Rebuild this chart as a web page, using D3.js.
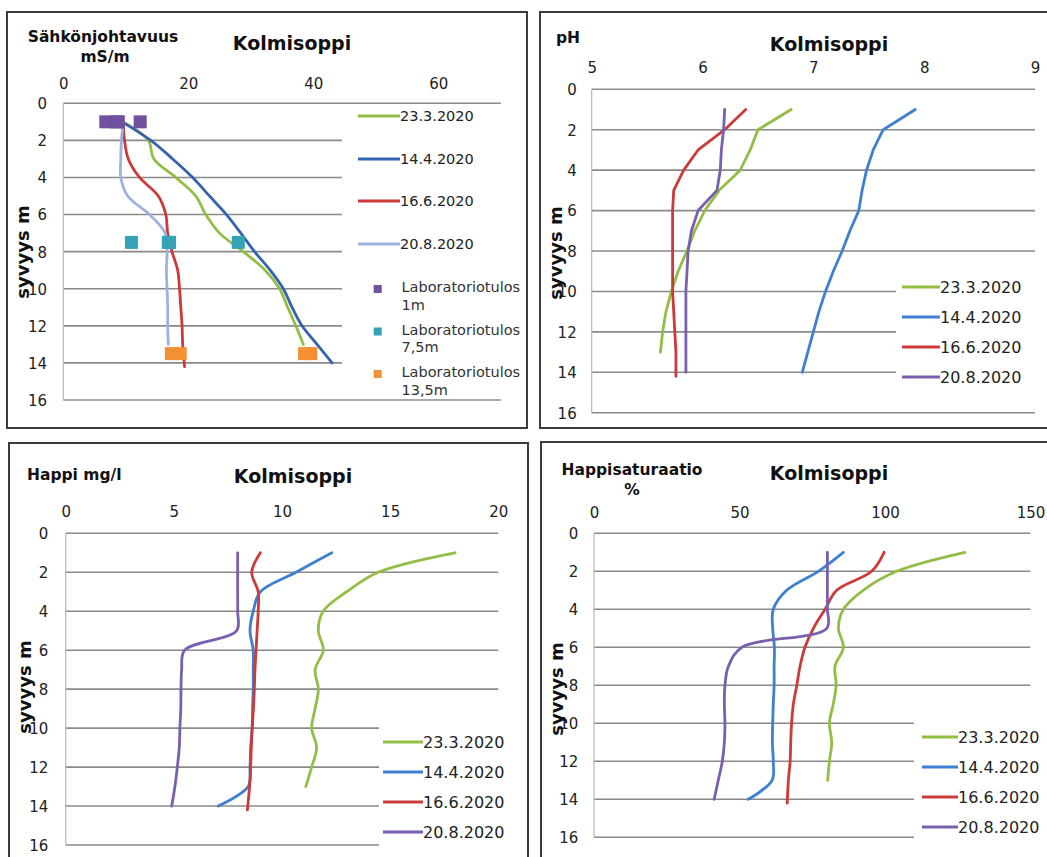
<!DOCTYPE html>
<html><head><meta charset="utf-8">
<script src="https://cdn.jsdelivr.net/npm/d3@7/dist/d3.min.js"></script>
<style>
body{margin:0;background:#fff}
svg{display:block}
text{font-family:"DejaVu Sans",Verdana,sans-serif}
</style>
</head><body>
<svg id="c" width="1047" height="857"></svg>
<script>
// ---------- shared ----------
const dates = ["23.3.2020", "14.4.2020", "16.6.2020", "20.8.2020"];
const depthTicks = [0, 2, 4, 6, 8, 10, 12, 14, 16];
const chartTitle = "Kolmisoppi";
const depthTitle = "syvyys m";
const depthTo13 = [1, 2, 3, 4, 5, 6, 7, 8, 9, 10, 11, 12, 13];
const depthTo14 = [1, 2, 3, 4, 5, 6, 7, 8, 9, 10, 11, 12, 13, 14];
const depthTo142 = [1, 2, 3, 4, 5, 6, 7, 8, 9, 10, 11, 12, 13, 14.2];

// ---------- Sähkönjohtavuus mS/m ----------
const ecTicks = [0, 20, 40, 60];
const ec2303 = [9.5, 13.6, 14.5, 18.0, 21.2, 22.8, 25.0, 28.8, 32.3, 34.6, 35.9, 37.2, 38.4];
const ec1404 = [9.4, 14.0, 17.5, 20.7, 23.4, 26.1, 28.4, 30.6, 33.1, 35.2, 36.6, 38.2, 40.6, 43.0];
const ec1606 = [9.6, 9.8, 10.4, 12.2, 15.2, 16.4, 16.7, 17.4, 18.3, 18.6, 18.8, 19.0, 19.1, 19.4];
const ec2008 = [9.6, 9.3, 9.2, 9.2, 10.3, 13.8, 16.3, 16.6, 16.5, 16.6, 16.7, 16.7, 16.8];
const labNames = ["Laboratoriotulos 1m", "Laboratoriotulos 7,5m", "Laboratoriotulos 13,5m"];
const labDepths = [1, 7.5, 13.5];
const lab1m = [6.8, 8.6, 8.8, 12.3];
const lab75m = [10.9, 16.8, 17.0, 28.0];
const lab135m = [17.3, 18.7, 38.6, 39.6];

// ---------- pH ----------
const phTicks = [5, 6, 7, 8, 9];
const ph2303 = [6.80, 6.50, 6.43, 6.34, 6.15, 6.02, 5.93, 5.86, 5.78, 5.72, 5.67, 5.64, 5.62];
const ph1404 = [7.92, 7.63, 7.54, 7.48, 7.44, 7.41, 7.33, 7.26, 7.18, 7.11, 7.05, 7.00, 6.95, 6.90];
const ph1606 = [6.39, 6.20, 5.96, 5.83, 5.74, 5.73, 5.73, 5.73, 5.73, 5.73, 5.74, 5.75, 5.76, 5.76];
const ph2008 = [6.20, 6.19, 6.17, 6.16, 6.13, 5.96, 5.90, 5.87, 5.86, 5.85, 5.85, 5.85, 5.85, 5.85];

// ---------- Happi mg/l ----------
const doTicks = [0, 5, 10, 15, 20];
const do2303 = [18.0, 14.45, 12.99, 11.9, 11.68, 11.91, 11.53, 11.68, 11.53, 11.37, 11.6, 11.37, 11.1];
const do1404 = [12.3, 10.65, 9.0, 8.67, 8.52, 8.67, 8.67, 8.67, 8.64, 8.62, 8.55, 8.52, 8.44, 7.05];
const do1606 = [9.0, 8.6, 8.9, 8.9, 8.85, 8.8, 8.75, 8.72, 8.68, 8.62, 8.58, 8.55, 8.5, 8.4];
const do2008 = [7.95, 7.95, 7.95, 7.95, 7.9, 5.5, 5.36, 5.33, 5.32, 5.28, 5.25, 5.16, 5.05, 4.9];

// ---------- Happisaturaatio % ----------
const dsTicks = [0, 50, 100, 150];
const ds2303 = [127.5, 104, 92.5, 85.7, 84.0, 85.7, 82.8, 83.2, 82.2, 80.9, 81.7, 80.9, 80.3];
const ds1404 = [85.7, 77.1, 66.2, 61.6, 61.4, 62.0, 61.9, 61.9, 61.6, 61.4, 61.3, 61.6, 61.2, 53.0];
const ds1606 = [99.7, 95.4, 83.4, 79.4, 75.4, 72.5, 70.8, 69.7, 68.5, 67.9, 67.6, 67.4, 66.8, 66.4];
const ds2008 = [80.2, 80.2, 80.2, 80.2, 80.0, 50.8, 46.2, 45.0, 44.8, 45.0, 44.8, 44.1, 42.7, 41.3];

// ---------- drawing ----------
const svg = d3.select("#c");
const FONT = '"DejaVu Sans",Verdana,sans-serif';
const GREEN = "#94bd45", RED = "#cc3a3a", PURPLE = "#7a5fae";
const fmt = d3.format("~g");

function pairs(depths, vals) { return vals.map((v, i) => ({ d: depths[i], v })); }

function panel(o) {
  const g = svg.append("g");
  g.append("rect").attr("x", o.frame[0]).attr("y", o.frame[1])
    .attr("width", o.frame[2]).attr("height", o.frame[3])
    .attr("fill", "#fff").attr("stroke", "#3c3c3c").attr("stroke-width", 2);

  const x = d3.scaleLinear().domain(o.xDomain).range(o.xRange);
  const y = d3.scaleLinear().domain([0, 16]).range(o.yRange);

  // grid
  g.append("g").selectAll("line").data(depthTicks).join("line")
    .attr("x1", o.xRange[0]).attr("x2", o.xRange[1])
    .attr("y1", d => y(d)).attr("y2", d => y(d))
    .attr("stroke", "#8a8a8a").attr("stroke-width", 1.6);
  g.append("line").attr("x1", o.xRange[0]).attr("x2", o.xRange[0])
    .attr("y1", y(0)).attr("y2", y(16)).attr("stroke", "#b8b8b8").attr("stroke-width", 1.2);

  // legend background
  g.append("rect").attr("x", o.legBox[0]).attr("y", o.legBox[1])
    .attr("width", o.legBox[2]).attr("height", o.legBox[3]).attr("fill", "#fff");

  // axes
  const xa = g.append("g").attr("transform", `translate(0,${o.xLabelY})`)
    .call(d3.axisTop(x).tickValues(o.xTicks).tickFormat(fmt).tickSize(0).tickPadding(0));
  xa.select(".domain").remove();
  xa.attr("font-size", 15).attr("font-family", FONT).attr("color", "#222");
  xa.selectAll("text").attr("y", 0).attr("dy", "0.36em");

  const ya = g.append("g").attr("transform", `translate(${o.yLabelX},0)`)
    .call(d3.axisLeft(y).tickValues(depthTicks).tickFormat(fmt).tickSize(0).tickPadding(0));
  ya.select(".domain").remove();
  ya.attr("font-size", 15).attr("font-family", FONT).attr("color", "#222");
  ya.selectAll("text").attr("x", 0).attr("dy", "0.36em");

  // titles
  g.append("text").attr("x", o.titleX).attr("y", o.titleY).attr("text-anchor", "middle")
    .attr("font-weight", "bold").attr("font-size", 19).attr("fill", "#111").text(chartTitle);
  o.axisTitle.forEach(t => g.append("text").attr("x", t.x).attr("y", t.y)
    .attr("text-anchor", t.a).attr("font-weight", "bold").attr("font-size", 15.5)
    .attr("fill", "#111").text(t.t));
  g.append("text").attr("transform", `translate(${o.yTitle[0]},${o.yTitle[1]}) rotate(-90)`)
    .attr("text-anchor", "middle").attr("dy", "0.35em").attr("font-weight", "bold")
    .attr("font-size", 18).attr("fill", "#111").text(depthTitle);

  // series lines
  const line = d3.line().x(d => x(d.v)).y(d => y(d.d)).curve(o.curve);
  o.series.forEach(s => {
    g.append("path").datum(pairs(s.depths, s.values)).attr("d", line)
      .attr("fill", "none").attr("stroke", s.color).attr("stroke-width", 2.8)
      .attr("stroke-linejoin", "round").attr("stroke-linecap", "round");
  });

  // lab markers
  if (o.labs) {
    o.labs.forEach(l => {
      g.append("g").selectAll("rect").data(l.values).join("rect")
        .attr("x", d => x(d) - 6.5).attr("y", y(l.depth) - 6.5)
        .attr("width", 13).attr("height", 13).attr("fill", l.color);
    });
  }

  // legend
  o.series.forEach((s, i) => {
    const ly = o.legYs[i];
    g.append("line").attr("x1", o.legLine[0]).attr("x2", o.legLine[1]).attr("y1", ly).attr("y2", ly)
      .attr("stroke", s.color).attr("stroke-width", 2.8);
    g.append("text").attr("x", o.legLine[1]).attr("y", ly).attr("dy", "0.36em")
      .attr("font-size", o.legFont).attr("fill", "#222").text(s.name);
  });
  if (o.labs) {
    o.labs.forEach((l, i) => {
      const ly = o.labLegYs[i];
      g.append("rect").attr("x", o.labMarkX - 4).attr("y", ly + 2 - 4).attr("width", 8).attr("height", 8).attr("fill", l.color);
      const parts = l.name.split(" ");
      g.append("text").attr("x", o.labTextX).attr("y", ly).attr("dy", "0.36em")
        .attr("font-size", o.legFont).attr("fill", "#333").text(parts[0]);
      g.append("text").attr("x", o.labTextX).attr("y", ly + 17.5).attr("dy", "0.36em")
        .attr("font-size", o.legFont).attr("fill", "#333").text(parts[1]);
    });
  }
}

const smooth = d3.curveCatmullRom.alpha(0.5);

panel({
  frame: [7, 12, 520, 416],
  xDomain: [0, 70], xRange: [63.3, 500.8], yRange: [103.3, 400],
  xTicks: ecTicks, xLabelY: 83.5, yLabelX: 47,
  titleX: 292, titleY: 50,
  axisTitle: [{ t: "Sähkönjohtavuus", x: 103, y: 41.5, a: "middle" }, { t: "mS/m", x: 105, y: 61.5, a: "middle" }],
  yTitle: [23, 252],
  legBox: [342, 108, 166, 287],
  legLine: [358, 400], legYs: [116, 159, 201, 244], legFont: 14.5,
  curve: smooth,
  series: [
    { name: dates[0], depths: depthTo13, values: ec2303, color: GREEN },
    { name: dates[1], depths: depthTo14, values: ec1404, color: "#3464b0" },
    { name: dates[2], depths: depthTo142, values: ec1606, color: RED },
    { name: dates[3], depths: depthTo13, values: ec2008, color: "#9db2dc" }
  ],
  labs: [
    { name: labNames[0], depth: labDepths[0], values: lab1m, color: "#70509f" },
    { name: labNames[1], depth: labDepths[1], values: lab75m, color: "#35a2b6" },
    { name: labNames[2], depth: labDepths[2], values: lab135m, color: "#f39034" }
  ],
  labMarkX: 377.7, labTextX: 401.5, labLegYs: [287, 329.5, 372]
});

panel({
  frame: [540, 12, 520, 416],
  xDomain: [5, 9], xRange: [591.7, 1035], yRange: [89.3, 412.7],
  xTicks: phTicks, xLabelY: 68, yLabelX: 576.7,
  titleX: 829, titleY: 51,
  axisTitle: [{ t: "pH", x: 556, y: 43, a: "start" }],
  yTitle: [556, 253],
  legBox: [896, 262, 150, 142],
  legLine: [902, 940], legYs: [287, 317, 347, 377], legFont: 16,
  curve: d3.curveLinear,
  series: [
    { name: dates[0], depths: depthTo13, values: ph2303, color: GREEN },
    { name: dates[1], depths: depthTo14, values: ph1404, color: "#3f7fd2" },
    { name: dates[2], depths: depthTo142, values: ph1606, color: RED },
    { name: dates[3], depths: depthTo14, values: ph2008, color: PURPLE }
  ]
});

panel({
  frame: [9, 443, 519, 420],
  xDomain: [0, 20], xRange: [65.7, 498.3], yRange: [533.3, 845],
  xTicks: doTicks, xLabelY: 512, yLabelX: 48.3,
  titleX: 293, titleY: 483,
  axisTitle: [{ t: "Happi mg/l", x: 27, y: 480, a: "start" }],
  yTitle: [25, 687],
  legBox: [379, 712, 130, 150],
  legLine: [383, 423], legYs: [742, 772, 802, 832], legFont: 16,
  curve: smooth,
  series: [
    { name: dates[0], depths: depthTo13, values: do2303, color: GREEN },
    { name: dates[1], depths: depthTo14, values: do1404, color: "#3f7fd2" },
    { name: dates[2], depths: depthTo142, values: do1606, color: RED },
    { name: dates[3], depths: depthTo14, values: do2008, color: PURPLE }
  ]
});

panel({
  frame: [541, 442, 520, 420],
  xDomain: [0, 150], xRange: [594, 1030.5], yRange: [533.3, 837.3],
  xTicks: dsTicks, xLabelY: 512.5, yLabelX: 578.3,
  titleX: 829, titleY: 480,
  axisTitle: [{ t: "Happisaturaatio", x: 632, y: 475, a: "middle" }, { t: "%", x: 632, y: 495, a: "middle" }],
  yTitle: [556.5, 689],
  legBox: [914, 712, 140, 150],
  legLine: [922, 958], legYs: [737, 767, 797, 827], legFont: 16,
  curve: smooth,
  series: [
    { name: dates[0], depths: depthTo13, values: ds2303, color: GREEN },
    { name: dates[1], depths: depthTo14, values: ds1404, color: "#3f7fd2" },
    { name: dates[2], depths: depthTo142, values: ds1606, color: RED },
    { name: dates[3], depths: depthTo14, values: ds2008, color: PURPLE }
  ]
});
</script>
</body></html>
